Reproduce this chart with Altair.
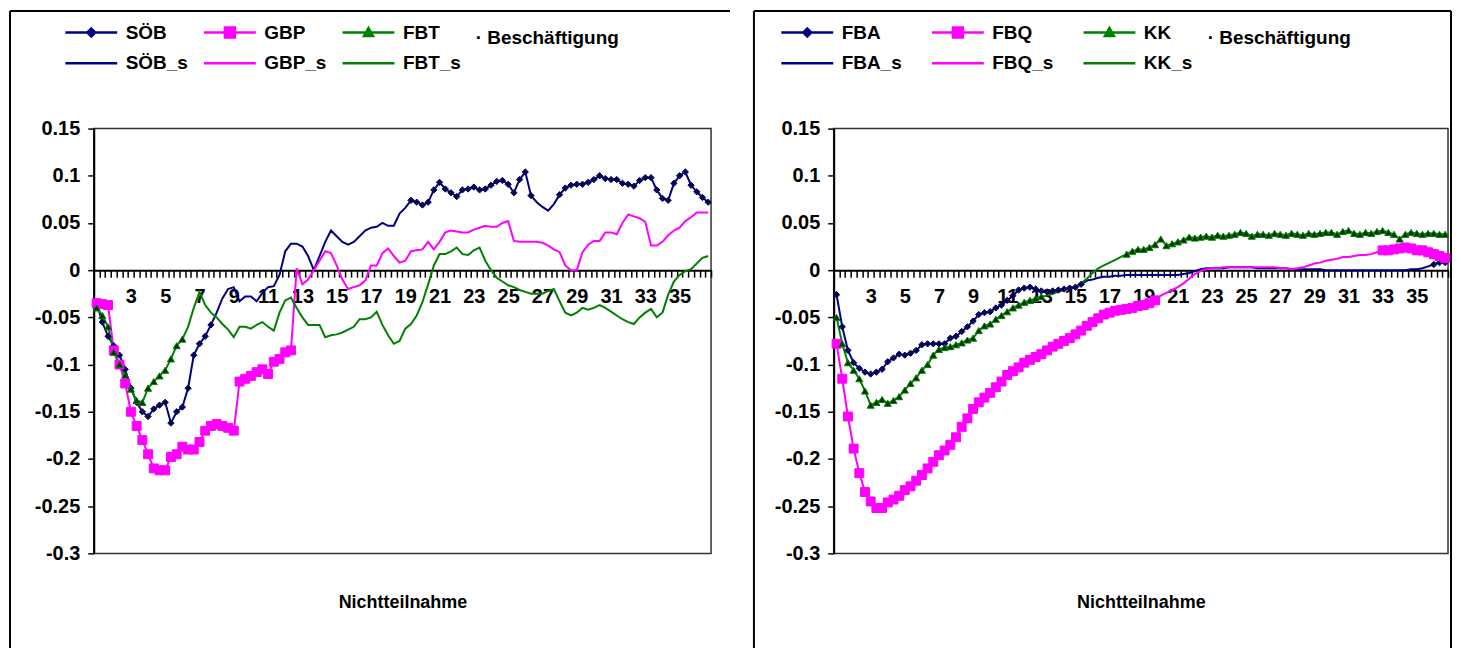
import altair as alt
import pandas as pd

FONT = "Liberation Sans"

# three observations per month, month 1 .. 36 2/3 (category axis)
N_OBS = 108
OBS_MONTH = [round(1 + i / 3, 4) for i in range(N_OBS)]

# ---------------- left panel ----------------
SOEB = [
    -0.035, -0.055, -0.070, -0.080, -0.090, -0.105, -0.125, -0.140, -0.150,
    -0.155, -0.147, -0.143, -0.140, -0.162, -0.150, -0.145, -0.125, -0.090,
    -0.078, -0.070, -0.058, -0.045, -0.030, -0.020, -0.018, -0.033, -0.028,
    -0.028, -0.033, -0.024, -0.018, -0.017, -0.005, 0.020, 0.028, 0.028,
    0.025, 0.015, 0.000, 0.015, 0.030, 0.042, 0.036, 0.030, 0.027,
    0.030, 0.036, 0.042, 0.045, 0.046, 0.050, 0.047, 0.047, 0.060,
    0.066, 0.074, 0.072, 0.069, 0.072, 0.085, 0.093, 0.086, 0.082,
    0.078, 0.085, 0.086, 0.088, 0.085, 0.086, 0.090, 0.094, 0.095,
    0.091, 0.082, 0.096, 0.104, 0.079, 0.072, 0.067, 0.063, 0.070,
    0.080, 0.087, 0.090, 0.091, 0.091, 0.093, 0.096, 0.100, 0.097,
    0.096, 0.096, 0.092, 0.091, 0.089, 0.095, 0.098, 0.098, 0.085,
    0.076, 0.074, 0.092, 0.100, 0.104, 0.090, 0.083, 0.077, 0.072,
]
GBP = [
    -0.035, -0.036, -0.037, -0.085, -0.100, -0.120, -0.150, -0.165, -0.180,
    -0.195, -0.210, -0.212, -0.212, -0.198, -0.195, -0.187, -0.190, -0.190,
    -0.182, -0.170, -0.165, -0.163, -0.165, -0.167, -0.170, -0.118, -0.115,
    -0.112, -0.108, -0.105, -0.110, -0.097, -0.094, -0.087, -0.085, 0.002,
    -0.015, -0.010, 0.000, 0.010, 0.020, 0.018, 0.005, -0.010, -0.020,
    -0.018, -0.016, -0.011, 0.005, 0.005, 0.018, 0.023, 0.015, 0.008,
    0.010, 0.020, 0.021, 0.022, 0.030, 0.022, 0.030, 0.040, 0.042,
    0.041, 0.040, 0.040, 0.043, 0.045, 0.047, 0.046, 0.046, 0.050,
    0.052, 0.031, 0.030, 0.030, 0.030, 0.030, 0.029, 0.026, 0.022,
    0.019, 0.005, 0.000, 0.000, 0.019, 0.027, 0.031, 0.031, 0.040,
    0.040, 0.038, 0.050, 0.059, 0.057, 0.055, 0.051, 0.026, 0.026,
    0.030, 0.037, 0.042, 0.045, 0.052, 0.056, 0.061, 0.061, 0.061,
]
FBT = [
    -0.040, -0.048, -0.060, -0.087, -0.100, -0.111, -0.126, -0.138, -0.140,
    -0.125, -0.118, -0.112, -0.106, -0.094, -0.080, -0.073, -0.060, -0.040,
    -0.023, -0.037, -0.045, -0.050, -0.057, -0.063, -0.071, -0.060, -0.060,
    -0.062, -0.058, -0.055, -0.060, -0.064, -0.045, -0.032, -0.029, -0.040,
    -0.050, -0.058, -0.058, -0.058, -0.071, -0.069, -0.068, -0.066, -0.063,
    -0.060, -0.052, -0.052, -0.050, -0.044, -0.058, -0.069, -0.078, -0.075,
    -0.062, -0.057, -0.048, -0.034, -0.015, 0.005, 0.017, 0.017, 0.020,
    0.024, 0.017, 0.016, 0.021, 0.024, 0.010, 0.000, -0.008, -0.012,
    -0.016, -0.018, -0.021, -0.023, -0.025, -0.025, -0.025, -0.022, -0.020,
    -0.033, -0.045, -0.048, -0.045, -0.040, -0.042, -0.040, -0.037, -0.040,
    -0.044, -0.048, -0.052, -0.055, -0.057, -0.050, -0.045, -0.041, -0.050,
    -0.045, -0.026, -0.012, -0.005, -0.001, 0.001, 0.007, 0.013, 0.015,
]
# month ranges in which the marked (non "_s") series is shown
SOEB_SIG = [(1, 7.67), (19.33, 26.33), (28, 36.67)]
GBP_SIG = [(1, 12.33)]
FBT_SIG = [(1, 6)]

# ---------------- right panel ----------------
FBA = [
    -0.026, -0.060, -0.085, -0.098, -0.104, -0.108, -0.110, -0.108, -0.105,
    -0.097, -0.093, -0.089, -0.090, -0.088, -0.085, -0.079, -0.078, -0.078,
    -0.078, -0.078, -0.072, -0.070, -0.065, -0.060, -0.054, -0.047, -0.045,
    -0.044, -0.040, -0.037, -0.032, -0.027, -0.021, -0.019, -0.018, -0.020,
    -0.022, -0.023, -0.022, -0.021, -0.020, -0.019, -0.018, -0.015, -0.011,
    -0.010, -0.008, -0.007, -0.007, -0.006, -0.006, -0.005, -0.005, -0.005,
    -0.005, -0.005, -0.005, -0.005, -0.005, -0.005, -0.005, -0.004, -0.003,
    -0.001, 0.001, 0.002, 0.002, 0.002, 0.002, 0.003, 0.003, 0.003,
    0.003, 0.003, 0.002, 0.002, 0.002, 0.002, 0.002, 0.002, 0.001,
    0.001, 0.001, 0.001, 0.001, 0.001, 0.000, 0.000, 0.000, 0.000,
    0.000, 0.000, 0.000, 0.000, 0.000, 0.000, 0.000, 0.000, 0.000,
    0.000, 0.000, 0.001, 0.001, 0.002, 0.004, 0.006, 0.008, 0.008,
]
FBQ = [
    -0.078, -0.115, -0.155, -0.189, -0.215, -0.235, -0.245, -0.252, -0.252,
    -0.246, -0.243, -0.239, -0.233, -0.229, -0.223, -0.217, -0.210, -0.203,
    -0.196, -0.191, -0.185, -0.177, -0.166, -0.157, -0.147, -0.140, -0.135,
    -0.130, -0.124, -0.118, -0.111, -0.107, -0.103, -0.098, -0.095, -0.092,
    -0.089, -0.085, -0.081, -0.078, -0.075, -0.072, -0.068, -0.064, -0.059,
    -0.055, -0.051, -0.047, -0.045, -0.043, -0.042, -0.041, -0.040, -0.038,
    -0.037, -0.035, -0.032, -0.027, -0.024, -0.021, -0.018, -0.014, -0.009,
    -0.004, -0.001, 0.001, 0.002, 0.002, 0.003, 0.003, 0.003, 0.003,
    0.003, 0.003, 0.003, 0.003, 0.003, 0.003, 0.002, 0.002, 0.001,
    0.002, 0.003, 0.005, 0.007, 0.008, 0.010, 0.011, 0.012, 0.014,
    0.014, 0.015, 0.016, 0.016, 0.017, 0.019, 0.021, 0.021, 0.022,
    0.023, 0.024, 0.023, 0.021, 0.021, 0.019, 0.017, 0.015, 0.013,
]
KK = [
    -0.050, -0.078, -0.098, -0.106, -0.115, -0.128, -0.143, -0.140, -0.137,
    -0.141, -0.138, -0.134, -0.127, -0.120, -0.114, -0.106, -0.100, -0.090,
    -0.084, -0.082, -0.081, -0.079, -0.077, -0.074, -0.072, -0.064, -0.059,
    -0.057, -0.052, -0.048, -0.044, -0.040, -0.037, -0.034, -0.032, -0.030,
    -0.028, -0.027, -0.025, -0.023, -0.021, -0.019, -0.018, -0.014, -0.009,
    -0.003, 0.002, 0.005, 0.008, 0.011, 0.014, 0.017, 0.020, 0.022,
    0.022, 0.024, 0.027, 0.033, 0.026, 0.028, 0.030, 0.032, 0.035,
    0.034, 0.035, 0.036, 0.035, 0.037, 0.036, 0.037, 0.038, 0.040,
    0.039, 0.036, 0.038, 0.038, 0.037, 0.039, 0.038, 0.037, 0.039,
    0.038, 0.037, 0.039, 0.038, 0.039, 0.040, 0.040, 0.038, 0.041,
    0.042, 0.039, 0.038, 0.040, 0.039, 0.041, 0.042, 0.040, 0.038,
    0.033, 0.038, 0.040, 0.039, 0.038, 0.039, 0.039, 0.038, 0.038,
]
FBA_SIG = [(1, 15.33), (36, 36.67)]
FBQ_SIG = [(1, 19.67), (33, 36.67)]
KK_SIG = [(1, 13), (18, 36.67)]

NAVY, MAGENTA, GREEN = "#000080", "#FF00FF", "#008000"
Y_TICKS = [-0.3, -0.25, -0.2, -0.15, -0.1, -0.05, 0, 0.05, 0.1, 0.15]
X_MIN, X_MAX = 5 / 6, 36 + 5 / 6
X_TICKS = [round(5 / 6 + k / 3, 5) for k in range(109)]
LABEL_EXPR = (
    "(abs(datum.value + 1/6 - round(datum.value + 1/6)) < 0.01"
    " && round(datum.value + 1/6) % 2 == 1 && round(datum.value + 1/6) < 36)"
    " ? toString(round(datum.value + 1/6)) : ''"
)

LINE_PATH = "M-5.2,0H5.2"
PATHS = {
    "diamond": LINE_PATH + "M0,-0.8L0.8,0L0,0.8L-0.8,0Z",
    "square": LINE_PATH + "M-1,-1H1V1H-1Z",
    "triangle-up": LINE_PATH + "M0,-0.9L0.9,0.7L-0.9,0.7Z",
}

HEIGHT = 426
FRAME_TOP = -118
FRAME_BOTTOM = HEIGHT + 95
ZERO_OFFSET = HEIGHT * 0.3 / 0.45


def long_frame(series):
    rows = []
    for name, vals, sig in series:
        for m, v in zip(OBS_MONTH, vals):
            s = any(a - 0.01 <= m <= b + 0.01 for a, b in sig)
            rows.append({"series": name, "month": m, "value": v, "sig": s})
    return pd.DataFrame(rows)


def panel(series, specs, width, legend_x, col_pad, frame_left, frame_right):
    df = long_frame(series)
    base = alt.Chart(df)
    x_axis = alt.Axis(
        values=X_TICKS, labelExpr=LABEL_EXPR, offset=-ZERO_OFFSET,
        title="Nichtteilnahme", titleY=333, titleBaseline="middle",
        titleFont=FONT, titleFontSize=18, titleFontWeight="bold", titleColor="black",
        grid=False, domainColor="black", domainWidth=2,
        tickColor="black", tickWidth=1.5, tickSize=7,
        labelFont=FONT, labelFontSize=20, labelFontWeight="bold", labelColor="black",
        labelPadding=9, labelOffset=width / 216, labelAngle=0,
        labelOverlap=False, labelFlush=False, labelBound=False,
    )
    y_axis = alt.Axis(
        values=Y_TICKS, labelExpr="toString(datum.value)", title=None, grid=False,
        domainColor="black", domainWidth=2, tickColor="black", tickWidth=1.5,
        tickSize=6, labelFont=FONT, labelFontSize=20, labelFontWeight="bold",
        labelColor="black", labelPadding=8,
    )
    xs = alt.X("month:Q", scale=alt.Scale(domain=[X_MIN, X_MAX], nice=False, zero=False), axis=x_axis)
    ys = alt.Y("value:Q", scale=alt.Scale(domain=[-0.3, 0.15], nice=False, zero=False), axis=y_axis)

    layers = []
    # frame of the panel
    one = alt.Data(values=[{"k": 1}])
    layers.append(alt.Chart(one).mark_rule(color="black", strokeWidth=2).encode(
        x=alt.value(frame_left), y=alt.value(FRAME_TOP), y2=alt.value(FRAME_BOTTOM)))
    layers.append(alt.Chart(one).mark_rule(color="black", strokeWidth=2).encode(
        x=alt.value(frame_left), x2=alt.value(frame_right), y=alt.value(FRAME_TOP)))
    if frame_right < width + 10:
        layers.append(alt.Chart(one).mark_rule(color="black", strokeWidth=2).encode(
            x=alt.value(frame_right), y=alt.value(FRAME_TOP), y2=alt.value(FRAME_BOTTOM)))

    for name, color, shape, size, fill in specs:
        sub = base.transform_filter(alt.datum.series == name)
        layers.append(sub.mark_line(color=color, strokeWidth=2).encode(x=xs, y=ys))
    for name, color, shape, size, fill in specs:
        sub = base.transform_filter(alt.datum.series == name).transform_filter(alt.datum.sig)
        layers.append(sub.mark_point(shape=shape, filled=True, size=size, fill=fill,
                                     stroke=color, strokeWidth=1, opacity=1).encode(x=xs, y=ys))

    names = [s[0] for s in specs] + [s[0] + "_s" for s in specs]
    colors = [s[1] for s in specs] * 2
    paths = [PATHS[s[2]] for s in specs] + [LINE_PATH] * 3
    leg = alt.Legend(
        orient="none", legendX=legend_x, legendY=-106, columns=3, direction="horizontal",
        title="· Beschäftigung", titleOrient="right",
        titleFont=FONT, titleFontSize=19, titleFontWeight="bold", titleColor="black",
        titlePadding=15, titleAnchor="middle", titleBaseline="bottom",
        labelFont=FONT, labelFontSize=19, labelFontWeight="bold", labelColor="black",
        labelOffset=25, columnPadding=col_pad, rowPadding=11, padding=0,
        symbolSize=100, symbolStrokeWidth=2.5, symbolOpacity=1, labelLimit=300,
    )
    legend_layer = alt.Chart(alt.Data(values=[])).mark_point(filled=True, opacity=1).encode(
        x=alt.value(0), y=alt.value(0),
        fill=alt.Fill("lg:N", scale=alt.Scale(domain=names, range=colors), legend=leg),
        stroke=alt.Stroke("lg:N", scale=alt.Scale(domain=names, range=colors), legend=leg),
        shape=alt.Shape("lg:N", scale=alt.Scale(domain=names, range=paths), legend=leg),
    )
    layers.append(legend_layer)

    return alt.layer(*layers).properties(width=width, height=HEIGHT)


left = panel(
    [("SÖB", SOEB, SOEB_SIG), ("GBP", GBP, GBP_SIG), ("FBT", FBT, FBT_SIG)],
    [("SÖB", NAVY, "diamond", 40, "#0a0a3a"),
     ("GBP", MAGENTA, "square", 80, MAGENTA),
     ("FBT", GREEN, "triangle-up", 50, "#0a300a")],
    width=619, legend_x=-12, col_pad=10, frame_left=-84, frame_right=638,
)
right = panel(
    [("FBA", FBA, FBA_SIG), ("FBQ", FBQ, FBQ_SIG), ("KK", KK, KK_SIG)],
    [("FBA", NAVY, "diamond", 40, "#0a0a3a"),
     ("FBQ", MAGENTA, "square", 80, MAGENTA),
     ("KK", GREEN, "triangle-up", 50, "#0a300a")],
    width=616, legend_x=-36, col_pad=24, frame_left=-80, frame_right=619,
)

chart = (
    alt.hconcat(left, right, spacing=20)
    .resolve_scale(fill="independent", stroke="independent", shape="independent")
    .properties(padding=0)
    .configure_view(stroke="#333333", strokeWidth=1.5)
)
chart.save("out.html", embed_options={"renderer": "svg", "actions": False})
